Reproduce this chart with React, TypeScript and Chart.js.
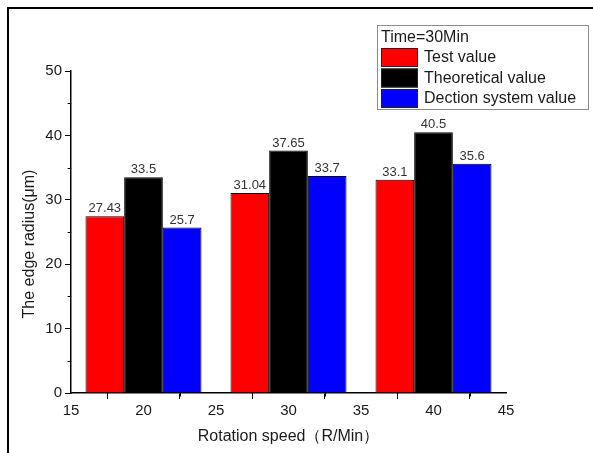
import React, { useEffect, useRef } from 'react';
import { Chart, registerables } from 'chart.js';

Chart.register(...registerables);

// ---- data ----
const speeds = [20, 30, 40];
const testValues = [27.43, 31.04, 33.1];
const theoreticalValues = [33.5, 37.65, 40.5];
const detectionValues = [25.7, 33.7, 35.6];
const seriesLabels = ['Test value', 'Theoretical value', 'Dection system value'];
const seriesColors = ['#ff0000', '#000000', '#0000ff'];
const legendTitle = 'Time=30Min';
const xTitle = 'Rotation speed（R/Min）';
const yTitle = 'The edge radius(μm)';
const xRange = [15, 45];
const xStep = 5;
const yRange = [0, 50];
const yStep = 10;

const FONT = 'Arial, "Liberation Sans", sans-serif';
const TEXT = '#1a1a1a';

const decorPlugin = {
  id: 'decor',
  afterDatasetsDraw(chart: any) {
    const ctx = chart.ctx;
    ctx.save();
    ctx.font = `13px ${FONT}`;
    ctx.fillStyle = '#333';
    ctx.textAlign = 'center';
    ctx.textBaseline = 'bottom';
    chart.data.datasets.forEach((ds: any, i: number) => {
      const meta = chart.getDatasetMeta(i);
      meta.data.forEach((bar: any, j: number) => {
        ctx.fillText(String(ds.data[j].y), bar.x, bar.y - 1);
      });
    });
    ctx.restore();
  },
  afterDraw(chart: any) {
    const ctx = chart.ctx;
    const { left, right, top, bottom } = chart.chartArea;
    const xs = chart.scales.x;
    const ys = chart.scales.y;
    ctx.save();
    // outer frame (top and left)
    ctx.fillStyle = '#000';
    ctx.fillRect(7, 7, chart.width - 7, 2);
    ctx.fillRect(7, 7, 2, chart.height - 7);

    // minor ticks
    ctx.strokeStyle = '#000';
    ctx.lineWidth = 1;
    ctx.beginPath();
    for (let v = xRange[0] + xStep / 2; v < xRange[1]; v += xStep) {
      const px = Math.round(xs.getPixelForValue(v)) + 0.5;
      ctx.moveTo(px, bottom);
      ctx.lineTo(px, bottom + 3.5);
    }
    for (let v = yRange[0] + yStep / 2; v < yRange[1]; v += yStep) {
      const py = Math.round(ys.getPixelForValue(v)) + 0.5;
      ctx.moveTo(left, py);
      ctx.lineTo(left - 3.5, py);
    }
    ctx.stroke();

    // axis titles
    ctx.fillStyle = TEXT;
    ctx.font = `16px ${FONT}`;
    ctx.textAlign = 'center';
    ctx.textBaseline = 'middle';
    ctx.fillText(xTitle, (left + right) / 2, 437);
    ctx.save();
    ctx.translate(30, (top + bottom) / 2 + 12);
    ctx.rotate(-Math.PI / 2);
    ctx.fillText(yTitle, 0, 0);
    ctx.restore();

    // legend
    const lx = 377, ly = 25, lw = 211, lh = 84;
    ctx.fillStyle = '#fff';
    ctx.fillRect(lx, ly, lw, lh);
    ctx.strokeStyle = '#8c8c8c';
    ctx.lineWidth = 1;
    ctx.strokeRect(lx + 0.5, ly + 0.5, lw, lh);
    ctx.fillStyle = TEXT;
    ctx.textAlign = 'left';
    ctx.textBaseline = 'middle';
    ctx.font = `16px ${FONT}`;
    ctx.fillText(legendTitle, lx + 4, ly + 13);
    chart.data.datasets.forEach((ds: any, i: number) => {
      const sy = ly + 23 + i * 20.5;
      ctx.fillStyle = ds.backgroundColor;
      ctx.fillRect(lx + 4, sy, 37, 19);
      ctx.strokeStyle = '#222';
      ctx.strokeRect(lx + 4.5, sy + 0.5, 36, 18);
      ctx.fillStyle = TEXT;
      ctx.fillText(ds.label, lx + 47, sy + 10);
    });
    ctx.restore();
  },
};

export default function App() {
  const canvasRef = useRef<HTMLCanvasElement | null>(null);

  useEffect(() => {
    const canvas = canvasRef.current;
    if (!canvas) return;
    const seriesValues = [testValues, theoreticalValues, detectionValues];
    const chart = new Chart(canvas, {
      type: 'bar',
      data: {
        datasets: seriesValues.map((vals, i) => ({
          label: seriesLabels[i],
          data: speeds.map((s, j) => ({ x: s, y: vals[j] })),
          backgroundColor: seriesColors[i],
          borderColor: '#000',
          borderWidth: 1,
          categoryPercentage: 1.6,
          barPercentage: 1.0,
        })),
      },
      options: {
        animation: false,
        responsive: false,
        devicePixelRatio: 1,
        layout: { padding: { left: 0, top: 71, right: 87, bottom: 0 } },
        plugins: {
          legend: { display: false },
          tooltip: { enabled: false },
        },
        scales: {
          x: {
            type: 'linear',
            min: xRange[0],
            max: xRange[1],
            offset: false,
            afterFit: (s: any) => { s.height = 60; },
            ticks: { stepSize: xStep, color: TEXT, font: { size: 15, family: FONT }, padding: 3, maxRotation: 0 },
            grid: { drawOnChartArea: false, drawTicks: true, tickLength: 6, tickColor: '#000', tickWidth: 1, color: '#000' },
            border: { display: true, color: '#000', width: 1.5 },
          },
          y: {
            type: 'linear',
            min: yRange[0],
            max: yRange[1],
            afterFit: (s: any) => { s.width = 71; },
            ticks: { stepSize: yStep, color: TEXT, font: { size: 15, family: FONT }, padding: 3 },
            grid: { drawOnChartArea: false, drawTicks: true, tickLength: 6, tickColor: '#000', tickWidth: 1, color: '#000' },
            border: { display: true, color: '#000', width: 1.5 },
          },
        },
      },
      plugins: [decorPlugin],
    } as any);
    return () => chart.destroy();
  }, []);

  return (
    <div style={{ position: 'fixed', left: 0, top: 0, width: 593, height: 453, background: '#fff' }}>
      <canvas ref={canvasRef} width={593} height={453} style={{ display: 'block', width: 593, height: 453 }} />
    </div>
  );
}
